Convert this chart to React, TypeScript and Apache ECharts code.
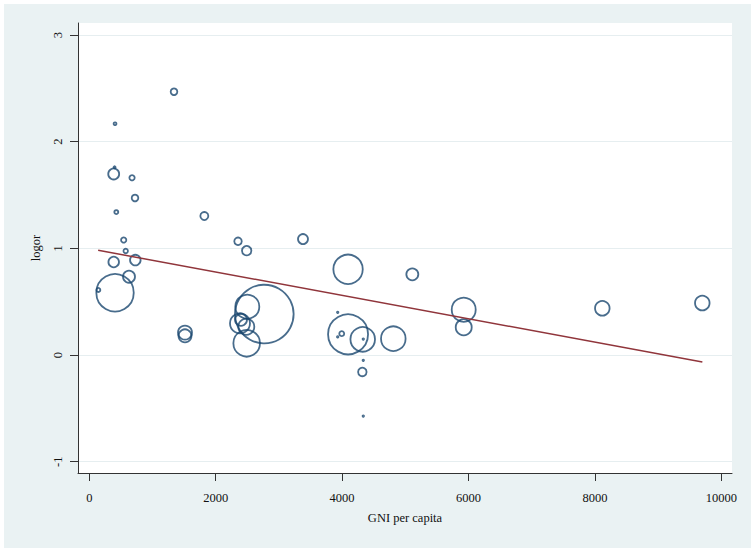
import React, { useEffect, useRef } from "react";
import * as echarts from "echarts";

// GNI per capita (x), log odds ratio (y), study weight (bubble area)
const gni: number[] = [
  1340, 407, 386, 400, 676, 723, 427, 1820, 544, 576, 386, 728, 628, 407, 143,
  2353, 2490, 3381, 1514, 1514, 2769, 2500, 2384, 2400, 2484, 2490, 4094, 5111,
  4094, 3994, 4326, 4810, 4320, 3930, 3930, 4335, 4335, 4335, 5924, 5924, 8117, 9699,
];
const logor: number[] = [
  2.468, 2.168, 1.697, 1.76, 1.662, 1.472, 1.34, 1.303, 1.078, 0.975, 0.872, 0.89, 0.734, 0.584, 0.61,
  1.066, 0.978, 1.087, 0.21, 0.18, 0.384, 0.453, 0.297, 0.33, 0.265, 0.11, 0.803, 0.756,
  0.194, 0.2, 0.147, 0.153, -0.159, 0.4, 0.17, 0.15, -0.05, -0.572, 0.425, 0.26, 0.438, 0.487,
];
const weight: number[] = [
  11, 2, 30, 1, 7, 11, 4, 16, 7, 5, 28, 28, 36, 350, 4,
  14, 22, 25, 49, 42, 860, 144, 100, 36, 64, 177, 216, 36,
  400, 6, 151, 151, 18, 0.5, 0.5, 0.5, 0.5, 0.5, 144, 64, 53, 53,
];
// fitted regression line endpoints (GNI, predicted logor)
const fitX: number[] = [140, 9700];
const fitY: number[] = [0.982, -0.065];

const xTicks: number[] = [0, 2000, 4000, 6000, 8000, 10000];
const yTicks: number[] = [-1, 0, 1, 2, 3];

export default function App() {
  const ref = useRef<HTMLDivElement>(null);
  useEffect(() => {
    document.body.style.margin = "0";
    if (!ref.current) return;
    const chart = echarts.init(ref.current, null, { renderer: "svg" });
    const font = "'Liberation Serif', 'Times New Roman', serif";
    const bubbles = gni.map((x, i) => [x, logor[i], weight[i]]);
    const fit = fitX.map((x, i) => [x, fitY[i]]);
    chart.setOption({
      animation: false,
      backgroundColor: "#ffffff",
      graphic: [
        {
          type: "rect",
          z: -10,
          shape: { x: 4, y: 4, width: 747, height: 544 },
          style: { fill: "#eaf2f3" },
          silent: true,
        },
      ],
      grid: {
        left: 78,
        right: 23,
        top: 23,
        bottom: 79,
        show: true,
        backgroundColor: "#ffffff",
        borderWidth: 0,
      },
      xAxis: {
        type: "value",
        min: -179,
        max: 10169,
        name: "GNI per capita",
        nameLocation: "middle",
        nameGap: 38,
        nameTextStyle: { fontFamily: font, fontSize: 12.5, color: "#111" },
        axisLine: { show: true, onZero: false, lineStyle: { color: "#333", width: 1 } },
        axisTick: { show: true, inside: false, length: 8, lineStyle: { color: "#333" }, customValues: xTicks },
        axisLabel: {
          fontFamily: font,
          fontSize: 12.5,
          color: "#111",
          margin: 18,
          customValues: xTicks,
          formatter: (v: number) => String(v),
        },
        splitLine: { show: false },
      },
      yAxis: {
        type: "value",
        min: -1.106,
        max: 3.1125,
        name: "logor",
        nameLocation: "middle",
        nameRotate: 90,
        nameGap: 36,
        nameTextStyle: { fontFamily: font, fontSize: 12.5, color: "#111" },
        axisLine: { show: true, onZero: false, lineStyle: { color: "#333", width: 1 } },
        axisTick: { show: true, inside: false, length: 8, lineStyle: { color: "#333" }, customValues: yTicks },
        axisLabel: {
          fontFamily: font,
          fontSize: 12.5,
          color: "#111",
          rotate: 90,
          margin: 14,
          customValues: yTicks,
          formatter: (v: number) => String(v),
        },
        splitLine: { show: true, lineStyle: { color: "#e6eef0", width: 1.2 } },
      },
      series: [
        {
          type: "scatter",
          data: bubbles,
          symbol: "circle",
          symbolSize: (v: number[]) => 2 * Math.sqrt(v[2]),
          itemStyle: { color: "rgba(0,0,0,0)", borderColor: "#1a476f", borderWidth: 1.8 },
          emphasis: { disabled: true },
        },
        {
          type: "line",
          data: fit,
          symbol: "none",
          lineStyle: { color: "#90353b", width: 1.5 },
          z: 3,
        },
      ],
    });
    return () => chart.dispose();
  }, []);
  return <div ref={ref} style={{ width: 755, height: 552 }} />;
}
